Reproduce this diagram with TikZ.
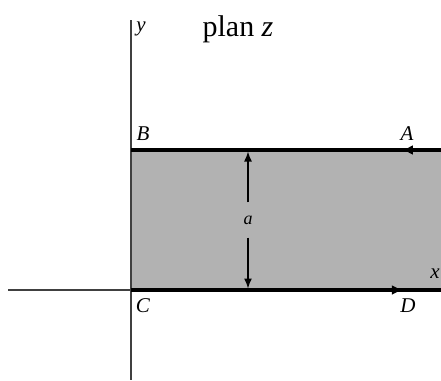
\documentclass[tikz,border=0pt]{standalone}
\usepackage{fontspec}
\setmainfont{Liberation Serif}
\usetikzlibrary{arrows.meta,decorations.markings}
\tikzset{
  axis/.style={line width=1.6pt, draw=black!75},
  edge/.style={line width=3.2pt, black},
  lbl/.style={font=\fontsize{21}{23}\selectfont\itshape, inner sep=0pt},
  tip/.style={-{Latex[length=10pt,width=8pt]}, line width=1.4pt},
  midarrow/.style={postaction={decorate, decoration={markings,
     mark=at position #1 with {\arrow{Latex[length=11pt,width=10pt]}}}}}
}
\begin{document}
\begin{tikzpicture}[x=1pt,y=-1pt]
\useasboundingbox (0,0) rectangle (441,380);
\coordinate (B) at (131,150);
\coordinate (A) at (441,150);
\coordinate (C) at (131,290);
\coordinate (D) at (441,290);
\coordinate (xl) at (8,290);
\coordinate (yt) at (131,20);
\coordinate (yb) at (131,380);
\fill[black!30] (C) rectangle (A);
\draw[axis] (xl) -- (C);
\draw[axis] (yt) -- (yb);
\draw[edge, midarrow=0.126] (A) -- (B);
\draw[edge, midarrow=0.877] (C) -- (D);
\node[lbl, font=\fontsize{18}{20}\selectfont\itshape, minimum height=35pt] (la) at (248,220) {a};
\coordinate (at) at (248,151.5);
\coordinate (ab) at (248,288.5);
\draw[tip] (la.north) -- (at);
\draw[tip] (la.south) -- (ab);
\node[lbl] (ly) at (141,29) {y};
\node[inner sep=0pt, font=\fontsize{30}{32}\selectfont] (title) at (238,29) {plan \textit{z}};
\node[lbl] (lB) at (143,134) {B};
\node[lbl] (lA) at (407,134) {A};
\node[lbl] (lC) at (143,306) {C};
\node[lbl] (lD) at (408,306) {D};
\node[lbl] (lx) at (435,274) {x};
\end{tikzpicture}
\end{document}
